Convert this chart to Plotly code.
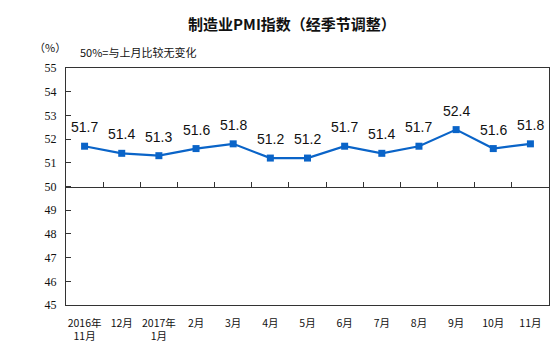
import plotly.graph_objects as go

months = ["2016年<br>11月", "12月", "2017年<br>1月", "2月", "3月", "4月", "5月",
          "6月", "7月", "8月", "9月", "10月", "11月"]
pmi = [51.7, 51.4, 51.3, 51.6, 51.8, 51.2, 51.2, 51.7, 51.4, 51.7, 52.4, 51.6, 51.8]
y_ticks = list(range(45, 56))

xs = list(range(len(months)))
color = "#0A64C8"
cjk = "Noto Sans CJK SC"

# page is drawn with an 8px body margin; size the figure so it fits the window
W, H = 550, 355
L, R, T, B = 58, 9, 60, 58
PW, PH = W - L - R, H - T - B

fig = go.Figure()
fig.add_trace(go.Scatter(
    x=xs, y=pmi, mode="lines+markers",
    line=dict(color=color, width=2.2),
    marker=dict(symbol="square", size=7, color=color),
    hoverinfo="skip", showlegend=False,
))
# invisible helper trace so the mid-line tick axis (x2) is rendered
fig.add_trace(go.Scatter(x=[xs[0]], y=[pmi[0]], xaxis="x2", mode="markers",
                         marker=dict(opacity=0), hoverinfo="skip", showlegend=False))

for xv, v in zip(xs, pmi):
    fig.add_annotation(x=xv, y=v, text=f"{v:.1f}", showarrow=False, yshift=19,
                       font=dict(family="Liberation Sans, Arial", size=14, color="#111"))

fig.update_layout(
    width=W, height=H,
    margin=dict(l=L, r=R, t=T, b=B),
    paper_bgcolor="white", plot_bgcolor="white",
    title=dict(text="<b>制造业PMI指数（经季节调整）</b>", xref="paper", x=(284 - L) / PW,
               xanchor="center", yref="container", y=1 - 17 / H, yanchor="middle",
               font=dict(family=cjk, size=15, color="#111")),
    xaxis=dict(range=[-0.5, len(months) - 0.5], tickmode="array", tickvals=xs, ticktext=months,
               showline=True, linecolor="#333", linewidth=1, mirror=True,
               ticks="", showgrid=False, zeroline=False, ticklabelstandoff=8,
               tickfont=dict(family=cjk, size=10.5, color="#111")),
    xaxis2=dict(overlaying="x", range=[-0.5, len(months) - 0.5], anchor="free", position=0.5,
                side="top", tickmode="array", tickvals=[i + 0.5 for i in range(len(months) - 1)],
                ticks="outside", ticklen=5, tickcolor="#333", showticklabels=False,
                showline=True, linecolor="#333", linewidth=1, showgrid=False, zeroline=False),
    yaxis=dict(range=[45, 55], tickmode="array", tickvals=y_ticks,
               showline=True, linecolor="#333", linewidth=1, mirror=True,
               ticks="inside", ticklen=5, tickcolor="#333", showgrid=False, zeroline=False,
               ticklabelstandoff=6,
               tickfont=dict(family="Liberation Serif, Times New Roman", size=12, color="#111")),
)

fig.add_annotation(xref="paper", yref="paper", x=(42 - L) / PW, y=1 + (60 - 39) / PH,
                   text="（%）", showarrow=False, xanchor="center", yanchor="middle",
                   font=dict(family=cjk, size=11, color="#111"))
fig.add_annotation(xref="paper", yref="paper", x=(70 - L) / PW, y=1 + (60 - 44) / PH,
                   text="50%=与上月比较无变化", showarrow=False, xanchor="left", yanchor="middle",
                   font=dict(family=cjk, size=11, color="#111"))

fig.write_html("out.html")
